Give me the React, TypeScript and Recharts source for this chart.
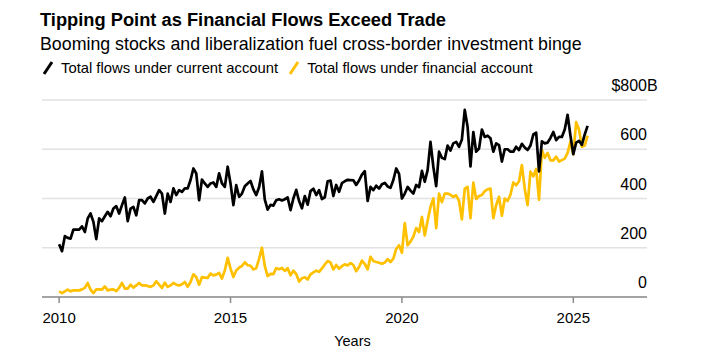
import { CartesianGrid, Line, LineChart, XAxis, YAxis } from "recharts";

// monthly, Jan 2010 onward, $B
const startYear = 2010;

const currentAccount = [
  214, 186, 247, 240, 237, 274, 274, 274, 287, 264,
  319, 339, 305, 235, 319, 308, 328, 346, 328, 359,
  369, 339, 373, 404, 308, 359, 366, 332, 393, 393,
  380, 400, 407, 386, 410, 434, 420, 339, 420, 386,
  441, 414, 434, 427, 441, 441, 475, 522, 502, 393,
  477, 461, 447, 461, 465, 447, 502, 461, 447, 529,
  461, 373, 454,
  407, 420, 450, 461, 471, 437, 414, 446, 510, 395,
  355, 374, 371, 393, 397, 392, 397, 404, 353, 400,
  435, 390, 360, 410, 375, 430, 440, 414, 434, 398,
  405, 470, 473, 410, 455, 427, 462, 470, 476, 475,
  474, 455, 473, 497, 511, 390, 447, 434, 452, 440,
  458, 463, 449, 443, 475, 522, 500, 400, 420, 447,
  432, 420, 455,
  446, 512, 468, 515, 630, 529, 450, 590, 565, 560,
  615, 595, 624, 630, 610, 640, 760, 690, 530, 670,
  590, 603, 680, 650, 655, 645, 590, 624, 617, 550,
  600, 600, 590, 590, 610, 597, 622, 607, 597, 615,
  660, 667, 510, 632, 624, 627, 646, 670, 637, 650,
  650, 680, 740, 655, 580, 627, 634, 618, 660, 695,
];

const financialAccount = [
  23, 16, 23, 30, 23, 27, 27, 27, 31, 37,
  57, 30, 16, 31, 31, 30, 43, 27, 30, 31,
  24, 37, 57, 34, 34, 50, 38, 47, 57, 47,
  47, 45, 41, 47, 64, 50, 37, 58, 41, 47,
  57, 50, 47, 52, 61, 41, 61, 92, 81, 50,
  81, 79, 77, 95, 88, 91, 98, 75, 108, 159,
  115, 81, 108,
  119, 126, 141, 129, 127, 112, 117, 155, 200, 125,
  85, 94, 93, 117, 113, 118, 106, 117, 88, 107,
  93, 63, 76, 80, 71, 92, 100, 107, 102, 116,
  132, 146, 140, 112, 130, 115, 125, 133, 128, 138,
  130, 105, 122, 148, 134, 112, 163, 146, 142, 139,
  135, 140, 154, 142, 156, 195, 210, 180, 300, 210,
  225, 245, 280,
  264, 325, 250, 310, 366, 400, 280, 420, 385, 420,
  420, 415, 407, 413, 390, 315, 440, 447, 320, 465,
  398, 410, 414, 430, 437, 440, 320, 373, 407, 330,
  400, 390, 415, 465, 454, 470, 536, 440, 373, 509,
  490, 520, 395, 597, 565, 585, 555, 555, 570, 550,
  556, 562, 585, 631, 580, 710, 680, 610, 615, 655,
];

const yearTicks = [2010, 2015, 2020, 2025];
const valueTicks = [0, 200, 400, 600, 800];

const data = currentAccount.map((v, i) => ({
  t: startYear + i / 12,
  current: v,
  financial: financialAccount[i],
}));

const font = '"Liberation Sans", Arial, Helvetica, sans-serif';
const black = "#000000";
const yellow = "#ffc000";

function ValueTick({ x, y, payload }: any) {
  const v = payload.value;
  const style = { fontSize: 16, fontFamily: font, fill: "#000" };
  if (v === 800) {
    return (
      <g>
        <text x={x} y={y - 9} textAnchor="end" style={style}>$800</text>
        <text x={x} y={y - 9} textAnchor="start" style={style}>B</text>
      </g>
    );
  }
  return (
    <text x={x} y={y - 9} textAnchor="end" style={style}>
      {v}
    </text>
  );
}

function Slash({ color }: { color: string }) {
  return (
    <svg width={12} height={14} style={{ marginRight: 7, flex: "none" }}>
      <line x1={2} y1={13} x2={10} y2={1} stroke={color} strokeWidth={3} />
    </svg>
  );
}

export default function App() {
  return (
    <div style={{ position: "relative", width: 700, height: 340, fontFamily: font }}>
      <div style={{ position: "absolute", left: 32, top: 1, fontSize: 18.3, fontWeight: 700, color: "#000", whiteSpace: "nowrap" }}>
        Tipping Point as Financial Flows Exceed Trade
      </div>
      <div style={{ position: "absolute", left: 32, top: 26, fontSize: 17.8, color: "#000", whiteSpace: "nowrap" }}>
        Booming stocks and liberalization fuel cross-border investment binge
      </div>
      <div style={{ position: "absolute", left: 34, top: 52, fontSize: 14.8, color: "#000", display: "flex", alignItems: "center", whiteSpace: "nowrap" }}>
        <Slash color={black} />
        <span style={{ marginRight: 10 }}>Total flows under current account</span>
        <Slash color={yellow} />
        <span>Total flows under financial account</span>
      </div>
      <LineChart
        width={700}
        height={340}
        data={data}
        margin={{ top: 92, right: 60, bottom: 0, left: 34 }}
        style={{ position: "absolute", left: 0, top: 0 }}
      >
        <CartesianGrid vertical={false} stroke="#e2e2e2" strokeWidth={1.3} />
        <XAxis
          type="number"
          dataKey="t"
          domain={[2009.5, 2027.15]}
          ticks={yearTicks}
          allowDataOverflow
          height={51}
          stroke="#8c8c8c"
          strokeWidth={1.5}
          tickSize={6}
          tickMargin={9}
          tick={{ fontSize: 15, fill: "#000", fontFamily: font }}
          label={{ value: "Years", position: "insideBottom", offset: 2, dx: 8, fontSize: 14.5, fill: "#000", fontFamily: font }}
        />
        <YAxis
          orientation="right"
          width={1}
          domain={[0, 800]}
          ticks={valueTicks}
          axisLine={false}
          tickLine={false}
          tickSize={0}
          tickMargin={0}
          tick={<ValueTick />}
        />
        <Line
          dataKey="financial"
          stroke={yellow}
          strokeWidth={2.7}
          dot={false}
          isAnimationActive={false}
          strokeLinejoin="round"
        />
        <Line
          dataKey="current"
          stroke={black}
          strokeWidth={2.7}
          dot={false}
          isAnimationActive={false}
          strokeLinejoin="round"
        />
      </LineChart>
    </div>
  );
}
